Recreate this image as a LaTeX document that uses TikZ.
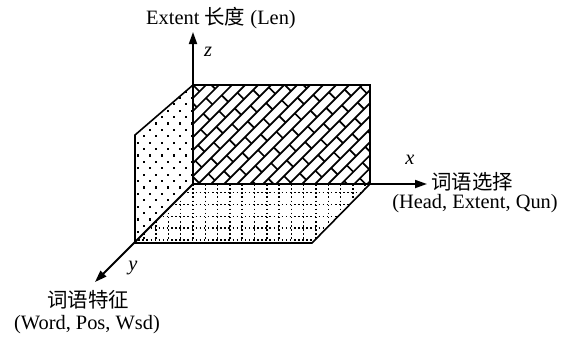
\documentclass[tikz,border=0pt]{standalone}
\usepackage{fontspec}
\setmainfont{Liberation Serif}
\newfontfamily\cjk{Noto Sans CJK SC}
\usetikzlibrary{arrows.meta}
\begin{document}
\begin{tikzpicture}[x=1pt,y=-1pt,
  font=\fontsize{20.4}{24}\selectfont,
  edge/.style={line width=1.6pt, line join=miter},
  axis/.style={line width=1.8pt, -{Triangle[length=12pt,width=8pt]}},
  brick/.style={line width=1.7pt},
  dotline/.style={line width=1.5pt, dash pattern=on 1.5pt off 2.6pt},
  lbl/.style={inner sep=0pt}]
\useasboundingbox (0,0) rectangle (568,338);
% key points
\coordinate (O) at (193,184);
\coordinate (B1) at (193,85);
\coordinate (B2) at (370,85);
\coordinate (B3) at (370,184);
\coordinate (L1) at (135,135);
\coordinate (L2) at (135,243);
\coordinate (F2) at (312,243);
\coordinate (Zt) at (193,32);
\coordinate (Xt) at (427,184);
\coordinate (Yt) at (95,282);
% back wall: brick pattern
\begin{scope}
  \clip (B1) -- (B2) -- (B3) -- (O) -- cycle;
  \begin{scope}[shift={(193,85)}, rotate=45]
    \foreach \k in {-24,...,24}{
      \draw[brick] (-260,{\k*9.2}) -- (260,{\k*9.2});
      \pgfmathtruncatemacro{\off}{mod(\k+100,2)*13}
      \foreach \j in {-11,...,11}{
        \draw[brick] ({\j*26+\off},{\k*9.2}) -- ({\j*26+\off},{(\k+1)*9.2});
      }
    }
  \end{scope}
\end{scope}
% left wall: dots
\begin{scope}
  \clip (B1) -- (L1) -- (L2) -- (O) -- cycle;
  \foreach \r in {0,...,26}{
    \pgfmathsetmacro{\yy}{84+\r*6.4}
    \pgfmathsetmacro{\off}{mod(\r,2)*6}
    \foreach \c in {0,...,6}{
      \fill ({131+\off+\c*12},\yy) rectangle +(2.2,2.2);
    }
  }
\end{scope}
% floor: dotted grid
\begin{scope}
  \clip (O) -- (B3) -- (F2) -- (L2) -- cycle;
  \foreach \yy in {192.5,204.5,216.3,228.2,240}{
    \draw[dotline] (130,\yy) -- (375,\yy);
  }
  \foreach \i in {-5,...,15}{
    \draw[dotline] ({193+\i*12.3},180) -- ({193+\i*12.3},246);
  }
\end{scope}
% outlines
\draw[edge] (B1) -- (B2) -- (B3);
\draw[edge] (B1) -- (L1) -- (L2) -- (F2) -- (B3);
% axes
\draw[axis] (O) -- (Zt);
\draw[axis] (O) -- (Xt);
\draw[axis] (O) -- (Yt);
% labels
\node[lbl] (zname) at (221,18) {Extent {\cjk 长度} (Len)};
\node[lbl] (zl) at (208,52) {\textit{z}};
\node[lbl] (xl) at (410,160) {\textit{x}};
\node[lbl] (yl) at (133,268) {\textit{y}};
\node[lbl, anchor=west] (xname) at (431,182) {\cjk 词语选择};
\node[lbl] (xsub) at (475,204) {(Head, Extent, Qun)};
\node[lbl] (yname) at (88,300) {\cjk 词语特征};
\node[lbl] (ysub) at (87,325) {(Word, Pos, Wsd)};
\end{tikzpicture}
\end{document}
